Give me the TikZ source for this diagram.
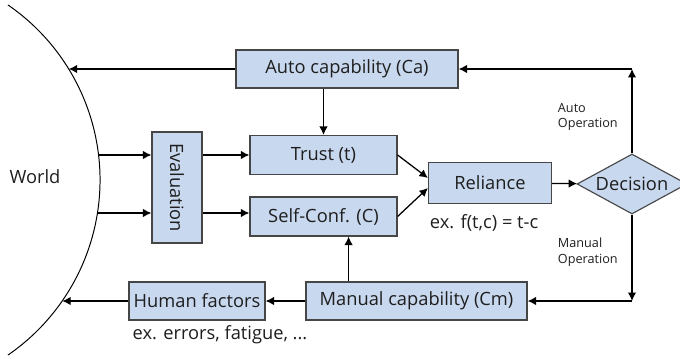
\documentclass[tikz,border=0pt]{standalone}
\usepackage{fontspec}
\setmainfont{Open Sans}
\usepackage{graphicx}
\usepackage{xcolor}
\usetikzlibrary{arrows.meta,positioning,shapes.geometric}

\definecolor{boxblue}{RGB}{200,216,238}
\definecolor{edgegray}{RGB}{70,70,70}
\definecolor{txt}{RGB}{30,30,30}

\begin{document}
\begin{tikzpicture}[
    x=0.025cm, y=-0.025cm,
    font=\fontsize{13}{15}\selectfont, text=txt,
    block/.style={rectangle, draw=edgegray, fill=boxblue, line width=0.8pt,
                  inner sep=0pt, minimum height=0.95cm},
    arr/.style={-{Latex[length=6pt,width=6pt]}, line width=0.9pt},
    note/.style={font=\fontsize{9}{11}\selectfont, align=left, anchor=west}
]
\useasboundingbox (0,0) rectangle (680,356);

% world
\node (world) at (35,177) {World};
\coordinate (wc) at (-112.4,180);
\draw[line width=0.7pt] (wc) ++(55.5:5.31cm)
    arc[start angle=55.5, end angle=-55.5, radius=5.31cm];
\coordinate (w1) at (68.7,69);
\coordinate (w2) at (98.5,155);
\coordinate (w3) at (97.4,213);
\coordinate (w4) at (62.2,301);

% blocks
\node[block, minimum width=5.55cm] (ca) at (347,69) {Auto capability (Ca)};
\node[block, minimum width=1.25cm, minimum height=2.775cm] (eval) at (177,187.5)
    {\rotatebox{-90}{Evaluation}};
\node[block, minimum width=3.675cm, minimum height=0.975cm] (trust) at (323.5,155) {Trust (t)};
\node[block, minimum width=3.675cm, minimum height=0.975cm] (self) at (323.5,216.5) {Self-Conf. (C)};
\node[block, minimum width=3.075cm, minimum height=1.025cm] (rel) at (490,183) {Reliance};
\node[diamond, aspect=1.8, draw=edgegray, fill=boxblue, line width=0.8pt, inner sep=0pt,
      minimum width=2.75cm, minimum height=1.5cm] (dec) at (632,184) {Decision};
\node[block, minimum width=5.525cm] (man) at (416.5,301) {Manual capability (Cm)};
\node[block, minimum width=3.4cm] (hum) at (197,301) {Human factors};

% notes
\node[anchor=west] (fx) at (425,223) {ex. f(t,c) = t-c};
\node (hx) at (220,335) {ex. errors, fatigue, ...};
\node[note] (auto) at (553,117) {Auto\\Operation};
\node[note] (manual) at (553,252) {Manual\\Operation};

% connectors
\draw[arr] (ca.west) -- (w1);
\draw[arr] (trust.north |- ca.south) -- (trust.north);
\draw[arr] (w2) -- (w2 -| eval.west);
\draw[arr] (w3) -- (w3 -| eval.west);
\draw[arr] (eval.east |- w2) -- (trust.west);
\draw[arr] (eval.east |- w3) -- (self.west |- w3);
\draw[arr] (trust.east) -- ([yshift=0.125cm]rel.west);
\draw[arr] (self.east) -- ([yshift=-0.125cm]rel.west);
\draw[arr] (rel) -- (dec);

\coordinate (au) at (dec.north |- ca);
\coordinate (mn) at (dec.south |- man);
\draw[arr] (dec.north) -- (au);
\draw[arr] (au) -- (ca.east);
\draw[arr] (dec.south) -- (mn);
\draw[arr] (mn) -- (man.east);

\draw[arr] ([xshift=-1.225cm]self.south east |- man.north) -- ([xshift=-1.225cm]self.south east);
\draw[arr] (man) -- (hum);
\draw[arr] (hum) -- (w4);
\end{tikzpicture}
\end{document}
